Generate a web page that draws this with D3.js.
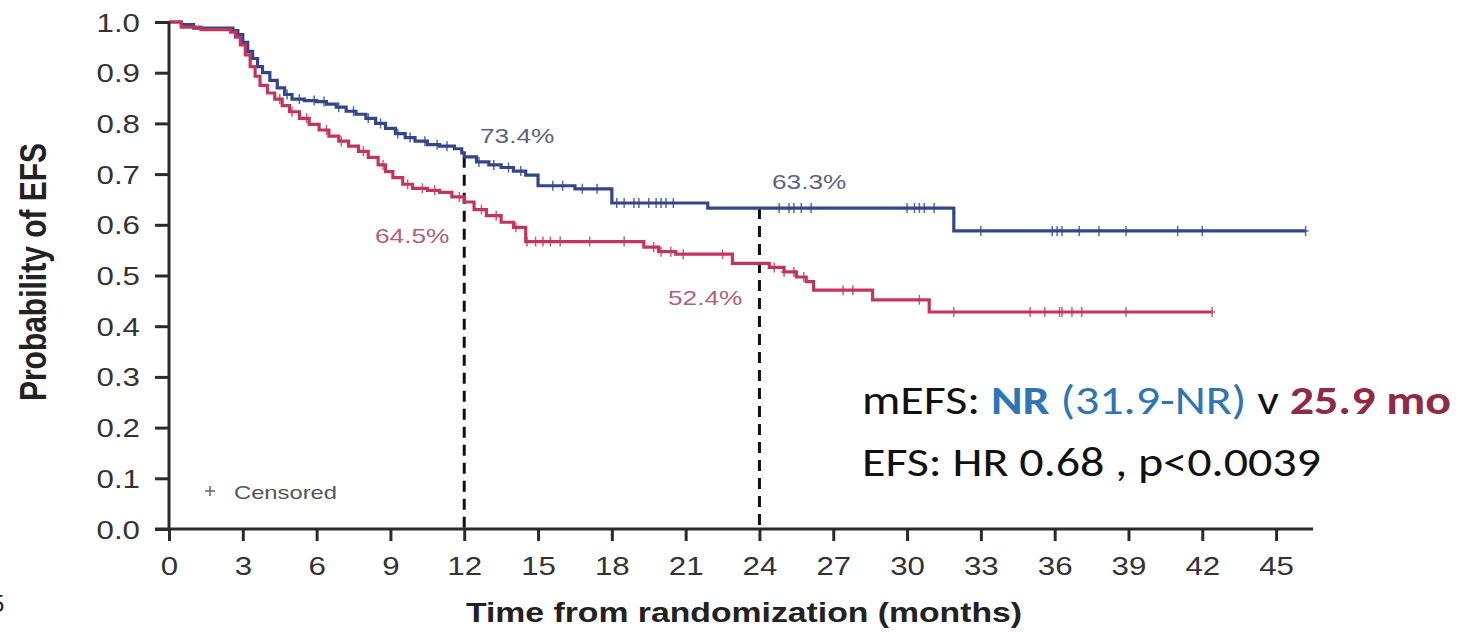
<!DOCTYPE html>
<html>
<head>
<meta charset="utf-8">
<script src="https://cdn.jsdelivr.net/npm/d3@7"></script>
<style>
  body { margin: 0; background: #fff; }
  svg { display: block; }
</style>
</head>
<body>
<script>
(function () {
  "use strict";

  // ---- data ----
  var blueTimes = [0, 0.5, 1.0, 2.6, 2.8, 3.0, 3.2, 3.4, 3.6, 3.8, 4.1, 4.4, 4.7, 5.0, 5.5, 6.0, 6.4, 6.8, 7.2, 7.6,
                   8.0, 8.4, 8.8, 9.2, 9.6, 10.0, 10.5, 11.0, 11.6, 11.9, 12.0, 12.5, 13.0, 13.5, 14.0, 14.5,
                   15.0, 16.5, 18.0, 21.9, 31.9];
  var blueSurv  = [1.000, 0.995, 0.988, 0.983, 0.975, 0.960, 0.942, 0.928, 0.912, 0.900, 0.885, 0.870, 0.857, 0.848,
                   0.845, 0.843, 0.838, 0.832, 0.824, 0.818, 0.810, 0.800, 0.790, 0.780, 0.772, 0.765, 0.758, 0.755,
                   0.750, 0.742, 0.734, 0.724, 0.718, 0.713, 0.706, 0.698, 0.677, 0.671, 0.643, 0.633, 0.588];
  var blueEnd = 46.2;
  var blueCensor = [4.8, 5.3, 5.9, 6.3, 6.9, 7.5, 8.1, 8.6, 9.3, 9.8, 10.4, 10.9, 11.3, 12.6, 13.2, 13.8, 14.3,
                    15.6, 16.0, 16.8, 17.4, 18.2, 18.5, 18.9, 19.1, 19.5, 19.8, 20.0, 20.2, 20.5,
                    24.8, 25.2, 25.4, 25.7, 26.1, 30.0, 30.3, 30.5, 30.7, 31.1,
                    33.0, 35.9, 36.1, 36.3, 37.0, 37.8, 38.9, 41.0, 42.0, 46.2];

  var redTimes = [0, 0.5, 1.3, 2.5, 2.7, 2.9, 3.1, 3.3, 3.5, 3.7, 4.0, 4.3, 4.6, 4.9, 5.3, 5.7, 6.1, 6.5, 6.9, 7.3,
                  7.7, 8.1, 8.5, 8.8, 9.1, 9.5, 9.9, 10.5, 11.0, 11.5, 12.0, 12.4, 12.9, 13.5, 14.0, 14.5,
                  19.3, 19.9, 20.6, 22.9, 24.4, 25.0, 25.5, 25.9, 26.2, 28.6, 30.9];
  var redSurv  = [1.000, 0.990, 0.985, 0.980, 0.970, 0.955, 0.935, 0.912, 0.893, 0.875, 0.860, 0.848, 0.835, 0.823,
                  0.810, 0.798, 0.787, 0.775, 0.765, 0.755, 0.745, 0.733, 0.718, 0.705, 0.693, 0.680, 0.672, 0.668,
                  0.664, 0.655, 0.645, 0.630, 0.618, 0.605, 0.595, 0.567, 0.556, 0.547, 0.542, 0.524, 0.516, 0.507,
                  0.497, 0.488, 0.471, 0.452, 0.428];
  var redEnd = 42.4;
  var redCensor = [4.5, 5.0, 5.6, 6.4, 7.0, 7.9, 8.7, 9.7, 10.3, 10.8, 11.8, 12.7, 13.3, 14.1,
                   14.55, 14.9, 15.2, 15.5, 15.9, 17.1, 18.5, 19.7, 20.0, 20.4, 20.9, 22.5,
                   24.6, 25.0, 25.4, 25.8, 27.4, 27.8, 30.5, 31.9, 35.0, 35.6, 36.2, 36.3, 36.7, 37.1, 38.9, 42.4];

  var xTickValues = [0, 3, 6, 9, 12, 15, 18, 21, 24, 27, 30, 33, 36, 39, 42, 45];
  var yTickValues = [0, 0.1, 0.2, 0.3, 0.4, 0.5, 0.6, 0.7, 0.8, 0.9, 1.0];
  var landmarks = [
    {t: 12, p: 0.734, label: "73.4%", series: "blue"},
    {t: 12, p: 0.645, label: "64.5%", series: "red"},
    {t: 24, p: 0.633, label: "63.3%", series: "blue"},
    {t: 24, p: 0.524, label: "52.4%", series: "red"}
  ];

  var W = 1478, H = 632;
  var stretch = 1.25;  // the source figure is stretched sideways
  var blueColor = "#34468a", redColor = "#c4345c";

  var svg = d3.select("body").append("svg").attr("width", W).attr("height", H);

  var x = d3.scaleLinear().domain([0, 46.5]).range([169, 1313]);
  var y = d3.scaleLinear().domain([0, 1]).range([529, 22]);

  function stepValue(times, surv, t) {
    var i = d3.bisectRight(times, t) - 1;
    return surv[Math.max(i, 0)];
  }

  function points(times, surv, end) {
    var pts = times.map(function (t, i) { return [t, surv[i]]; });
    pts.push([end, surv[surv.length - 1]]);
    return pts;
  }

  // dashed landmark lines
  svg.selectAll(".landmark")
      .data(landmarks.filter(function (d) { return d.series === "blue"; }))
      .enter()
    .append("line")
      .attr("class", "landmark")
      .attr("x1", function (d) { return x(d.t); })
      .attr("x2", function (d) { return x(d.t); })
      .attr("y1", function (d) { return y(d.p); })
      .attr("y2", y(0))
      .attr("stroke", "#111")
      .attr("stroke-width", 3)
      .attr("stroke-dasharray", "11,7");

  var line = d3.line()
      .x(function (d) { return x(d[0]); })
      .y(function (d) { return y(d[1]); })
      .curve(d3.curveStepAfter);

  var series = [
    {times: blueTimes, surv: blueSurv, end: blueEnd, censor: blueCensor, color: blueColor},
    {times: redTimes, surv: redSurv, end: redEnd, censor: redCensor, color: redColor}
  ];

  series.forEach(function (s) {
    svg.append("path")
        .attr("d", line(points(s.times, s.surv, s.end)))
        .attr("fill", "none")
        .attr("stroke", s.color)
        .attr("stroke-width", 3.2);
    svg.selectAll(null)
        .data(s.censor)
        .enter()
      .append("path")
        .attr("d", "M-3,0H3M0,-5V5")
        .attr("transform", function (t) {
          return "translate(" + x(t) + "," + y(stepValue(s.times, s.surv, t)) + ")";
        })
        .attr("stroke", s.color)
        .attr("stroke-width", 1.5)
        .attr("opacity", 0.8);
  });

  // axes
  var axisColor = "#2b2b2b";
  var gy = svg.append("g")
      .attr("transform", "translate(" + x(0) + ",0)")
      .call(d3.axisLeft(y).tickValues(yTickValues).tickSize(14).tickFormat(d3.format(".1f")));
  var gx = svg.append("g")
      .attr("transform", "translate(0," + y(0) + ")")
      .call(d3.axisBottom(x).tickValues(xTickValues).tickSize(12).tickFormat(d3.format("d")));

  [gx, gy].forEach(function (g) {
    g.select(".domain").remove();
    g.selectAll(".tick line").attr("stroke", axisColor).attr("stroke-width", 3);
    g.selectAll(".tick text")
        .attr("fill", "#333")
        .style("font-family", "'Liberation Sans', Arial, sans-serif")
        .style("font-size", "25px");
  });
  gy.selectAll(".tick text")
      .attr("x", null).attr("dy", null)
      .attr("transform", "translate(-29,9) scale(" + stretch + ",1)");
  gx.selectAll(".tick text")
      .attr("y", null).attr("dy", null)
      .attr("transform", "translate(0,46) scale(" + stretch + ",1)");

  svg.append("line")
      .attr("x1", x(0)).attr("x2", x(0))
      .attr("y1", y(1)).attr("y2", y(0))
      .attr("stroke", axisColor).attr("stroke-width", 3);
  svg.append("line")
      .attr("x1", x(0) - 14).attr("x2", x.range()[1])
      .attr("y1", y(0)).attr("y2", y(0))
      .attr("stroke", axisColor).attr("stroke-width", 3);

  // axis titles
  svg.append("text")
      .attr("transform", "translate(46,272) rotate(-90) scale(1," + stretch + ")")
      .attr("text-anchor", "middle")
      .style("font-family", "'Liberation Sans', Arial, sans-serif")
      .style("font-size", "30px")
      .style("font-weight", "bold")
      .attr("fill", "#222")
      .text("Probability of EFS");
  svg.append("text")
      .attr("transform", "translate(744,622) scale(" + stretch + ",1)")
      .attr("text-anchor", "middle")
      .style("font-family", "'Liberation Sans', Arial, sans-serif")
      .style("font-size", "27px")
      .style("font-weight", "bold")
      .attr("fill", "#222")
      .text("Time from randomization (months)");

  // landmark labels
  var labelPos = {"73.4%": [480, 143], "64.5%": [375, 243], "63.3%": [772, 189], "52.4%": [668, 305]};
  svg.selectAll(".pct")
      .data(landmarks)
      .enter()
    .append("text")
      .attr("class", "pct")
      .attr("transform", function (d) {
        var p = labelPos[d.label];
        return "translate(" + p[0] + "," + p[1] + ") scale(" + stretch + ",1)";
      })
      .style("font-family", "'Liberation Sans', Arial, sans-serif")
      .style("font-size", "21px")
      .attr("fill", function (d) { return d.series === "blue" ? "#5b6484" : "#b0607e"; })
      .text(function (d) { return d.label; });

  // censored legend
  svg.append("path")
      .attr("d", "M-5,0H5M0,-5V5")
      .attr("transform", "translate(210,491)")
      .attr("stroke", "#666").attr("stroke-width", 1.5);
  svg.append("text")
      .attr("transform", "translate(234,499) scale(" + stretch + ",1)")
      .style("font-family", "'Liberation Sans', Arial, sans-serif")
      .style("font-size", "19px")
      .attr("fill", "#555")
      .text("Censored");

  // summary text (also stretched sideways in the source)
  var font = "Carlito, Lato, 'Noto Sans', sans-serif";
  var textStretch = 1.2;
  var t1 = svg.append("text")
      .attr("transform", "translate(862,414) scale(" + textStretch + ",1)")
      .style("font-family", font)
      .style("font-size", "40px")
      .attr("fill", "#111");
  t1.append("tspan").text("mEFS: ");
  t1.append("tspan").attr("fill", "#2e75b6").style("font-weight", "bold").text("NR");
  t1.append("tspan").attr("fill", "#2e75b6").text(" (31.9-NR)");
  t1.append("tspan").text(" v ");
  t1.append("tspan").attr("fill", "#8e2b47").style("font-weight", "bold").text("25.9 mo");

  svg.append("text")
      .attr("transform", "translate(862,476) scale(" + textStretch + ",1)")
      .style("font-family", font)
      .style("font-size", "40px")
      .attr("fill", "#111")
      .text("EFS: HR 0.68 , p<0.0039");

  // clipped character at the far left edge
  svg.append("text")
      .attr("x", -9).attr("y", 612)
      .style("font-family", "'Liberation Sans', Arial, sans-serif")
      .style("font-size", "24px")
      .attr("fill", "#222")
      .text("5");
}());
</script>
</body>
</html>
